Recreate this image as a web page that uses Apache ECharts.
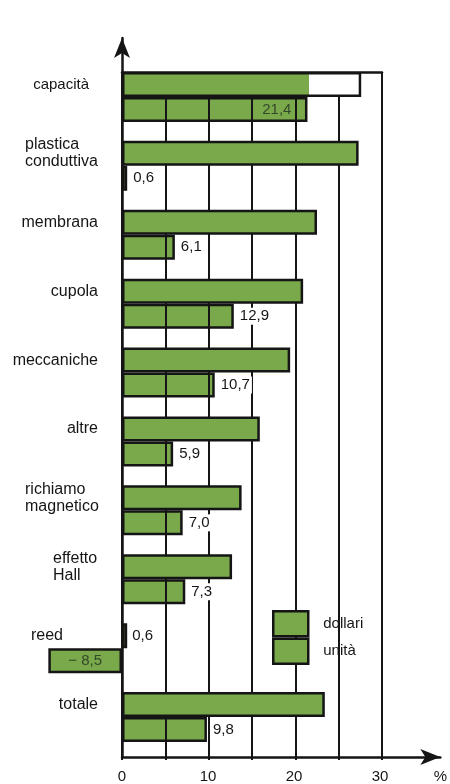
<!DOCTYPE html>
<html>
<head>
<meta charset="utf-8">
<script src="https://cdn.jsdelivr.net/npm/echarts@6/dist/echarts.min.js"></script>
<style>
html,body{margin:0;padding:0;background:#fff;}
#chart{width:450px;height:784px;}
</style>
</head>
<body>
<div id="chart"></div>
<script>
// ---- data ----
const categories = ['capacità', 'plastica\nconduttiva', 'membrana', 'cupola', 'meccaniche', 'altre', 'richiamo\nmagnetico', 'effetto\nHall', 'reed', 'totale'];
const dollari = [27.6, 27.3, 22.5, 20.9, 19.4, 15.9, 13.8, 12.7, 0.6, 23.4];
const unita = [21.4, 0.6, 6.1, 12.9, 10.7, 5.9, 7.0, 7.3, -8.5, 9.8];
const seriesNames = ['dollari', 'unità'];
const percentSign = '%';

// ---- style ----
const FONT = 'Liberation Sans, Arial, sans-serif';
const GREEN = '#79a94b';
const INK = '#151515';
const DARKLBL = '#34482a';

function fmt(v) {
  const s = Math.abs(v).toFixed(1).replace('.', ',');
  return v < 0 ? '\u2212 ' + s : s;
}

const chart = echarts.init(document.getElementById('chart'), null, {renderer: 'canvas'});

// pixel geometry
const X0 = 122, PX = 260 / 30;          // 0 -> 122px, 30 -> 382px
const GTOP = 62.5, GH = 689;

const dollariData = dollari.map(function (v, i) {
  const item = {value: v};
  if (i === 0) {
    item.itemStyle = {
      color: {type: 'linear', x: 0, y: 0, x2: 1, y2: 0, colorStops: [
        {offset: 0, color: GREEN}, {offset: 0.783, color: GREEN},
        {offset: 0.783, color: '#ffffff'}, {offset: 1, color: '#ffffff'}]}
    };
  }
  if (categories[i] === 'reed') {
    item.label = {show: true, position: 'right', distance: 5, color: INK, fontSize: 15, fontFamily: FONT, formatter: function (p) { return fmt(p.value); }};
  }
  return item;
});

const unitaLabelData = unita.map(function (v, i) {
  let label;
  if (v < 0) {
    label = {show: true, position: 'inside', color: DARKLBL, backgroundColor: 'transparent'};
  } else if (i === 0) {
    label = {show: true, position: 'insideRight', distance: 14, color: DARKLBL, backgroundColor: 'transparent'};
  } else {
    label = {show: true, position: 'right', distance: 4, color: INK, backgroundColor: '#fff'};
  }
  return {value: v, label: label};
});

const hiddenValueAxis = function (grid, min, max) {
  return {type: 'value', gridIndex: grid, min: min, max: max, show: false, splitLine: {show: false}};
};
const hiddenCatAxis = function (grid) {
  return {type: 'category', gridIndex: grid, data: categories, inverse: true, show: false};
};

const option = {
  animation: false,
  backgroundColor: '#fff',
  textStyle: {fontFamily: FONT},
  grid: [
    // 0: bars
    {left: X0 - 10 * PX, width: 40 * PX, top: GTOP, height: GH},
    // 1: label overlay (same geometry)
    {left: X0 - 10 * PX, width: 40 * PX, top: GTOP, height: GH},
    // 2: axes with arrows
    {left: X0, width: 37 * PX, top: 38, height: 760 - 38},
    // 3: split lines + top frame
    {left: X0, width: 30 * PX, top: 72, height: 760 - 72},
    // 4: category labels
    {left: 107, width: 15, top: 84.5 - GH / 20, height: GH}
  ],
  xAxis: [
    hiddenValueAxis(0, -10, 30),
    hiddenValueAxis(1, -10, 30),
    {
      type: 'value', gridIndex: 2, min: 0, max: 37, interval: 10, z: 7,
      axisLine: {show: true, onZero: false, symbol: ['none', 'arrow'], symbolSize: [12, 20], lineStyle: {color: INK, width: 2.5}},
      axisTick: {show: false},
      splitLine: {show: false},
      axisLabel: {show: true, margin: 12, color: INK, fontSize: 15, fontFamily: FONT,
        formatter: function (v) { return v === 37 ? percentSign : (v % 10 === 0 ? String(v) : ''); }}
    },
    {
      type: 'value', gridIndex: 3, min: 0, max: 30, interval: 5, position: 'top', z: 3,
      axisLine: {show: true, onZero: false, lineStyle: {color: INK, width: 2.5}},
      axisTick: {show: false},
      axisLabel: {show: false},
      splitLine: {show: true, lineStyle: {color: INK, width: 2}}
    },
    hiddenValueAxis(4, 0, 1)
  ],
  yAxis: [
    hiddenCatAxis(0),
    hiddenCatAxis(1),
    {
      type: 'value', gridIndex: 2, min: 0, max: 1, z: 7,
      axisLine: {show: true, onZero: false, symbol: ['none', 'arrow'], symbolSize: [12, 20], lineStyle: {color: INK, width: 2.5}},
      axisTick: {show: false}, axisLabel: {show: false}, splitLine: {show: false}
    },
    {type: 'value', gridIndex: 3, show: false, splitLine: {show: false}},
    {
      type: 'category', gridIndex: 4, data: categories, inverse: true,
      axisLine: {show: false}, axisTick: {show: false}, splitLine: {show: false},
      axisLabel: {
        show: true, margin: 9, color: INK, fontSize: 16, fontFamily: FONT, lineHeight: 17, align: 'right',
        formatter: function (v) {
          if (v.indexOf('\n') >= 0) {
            const key = v.indexOf('effetto') === 0 ? 'w45' : 'w73';
            return v.split('\n').map(function (s) { return '{' + key + '|' + s + '}'; }).join('\n');
          }
          if (v === 'capacità') return '{cap|' + v + '}';
          if (v === 'reed') return '{reed|' + v + '}';
          return v;
        },
        rich: {
          w73: {width: 73, align: 'left', fontSize: 16, lineHeight: 17, color: INK, fontFamily: FONT},
          w45: {width: 45, align: 'left', fontSize: 16, lineHeight: 17, color: INK, fontFamily: FONT},
          cap: {padding: [0, 9, 0, 0], fontSize: 15, color: INK, fontFamily: FONT},
          reed: {padding: [0, 35, 0, 0], fontSize: 16, color: INK, fontFamily: FONT}
        }
      }
    }
  ],
  legend: {
    data: [{name: seriesNames[0]}, {name: seriesNames[1], textStyle: {padding: [0, 0, 14, 10]}}],
    orient: 'vertical', left: 272, top: 610, padding: 0,
    itemWidth: 35, itemHeight: 25, itemGap: 0, icon: 'rect',
    itemStyle: {color: GREEN, borderColor: INK, borderWidth: 2.5},
    textStyle: {fontSize: 15, color: INK, fontFamily: FONT, padding: [0, 0, 0, 10]},
    selectedMode: false
  },
  series: [
    {
      name: seriesNames[0], type: 'bar', xAxisIndex: 0, yAxisIndex: 0, z: 4,
      barWidth: 25, barGap: '0%',
      itemStyle: {color: GREEN, borderColor: INK, borderWidth: 2.5},
      data: dollariData
    },
    {
      name: seriesNames[1], type: 'bar', xAxisIndex: 0, yAxisIndex: 0, z: 2,
      barWidth: 25, barGap: '0%',
      itemStyle: {color: GREEN, borderColor: INK, borderWidth: 2.5},
      data: unita
    },
    {
      name: 'placeholder', type: 'bar', xAxisIndex: 1, yAxisIndex: 1, z: 6, silent: true,
      barWidth: 25, barGap: '0%',
      itemStyle: {color: 'rgba(0,0,0,0)', borderWidth: 0},
      data: dollari
    },
    {
      name: 'unità-labels', type: 'bar', xAxisIndex: 1, yAxisIndex: 1, z: 6, silent: true,
      barWidth: 25, barGap: '0%',
      itemStyle: {color: 'rgba(0,0,0,0)', borderWidth: 0},
      label: {fontSize: 15, fontFamily: FONT, padding: [1, 2], formatter: function (p) { return fmt(p.value); }},
      data: unitaLabelData
    }
  ]
};
chart.setOption(option);
</script>
</body>
</html>
